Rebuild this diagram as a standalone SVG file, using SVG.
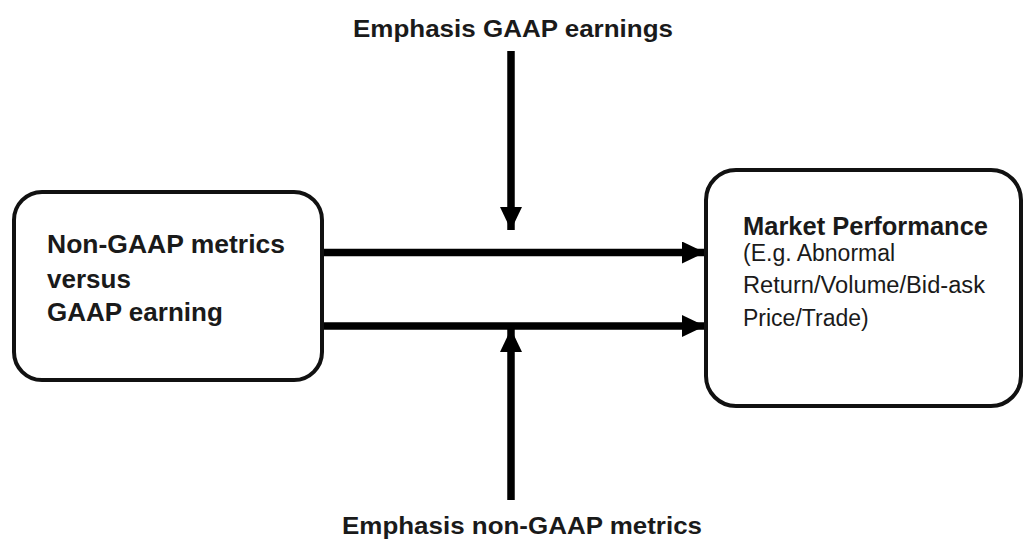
<svg xmlns="http://www.w3.org/2000/svg" width="1024" height="549" viewBox="0 0 1024 549">
  <style>
    .box { fill: #ffffff; stroke: #111111; stroke-width: 4; }
    .conn { stroke: #000000; stroke-width: 7.5; fill: none; }
    .b { font-family: "Liberation Sans", Arial, sans-serif; font-weight: bold; fill: #1a1a1a; }
    .r { font-family: "Liberation Sans", Arial, sans-serif; font-weight: normal; fill: #1a1a1a; }
  </style>
  <defs>
    <marker id="ah" markerUnits="userSpaceOnUse" markerWidth="24" markerHeight="24" refX="23" refY="11" orient="auto">
      <path d="M0,0 L23,11 L0,22 Z" fill="#000000"/>
    </marker>
  </defs>
  <rect width="1024" height="549" fill="#ffffff"/>

  <g id="connectors">
    <line class="conn" x1="324" y1="252.5" x2="705" y2="252.5" marker-end="url(#ah)"/>
    <line class="conn" x1="324" y1="326" x2="705" y2="326" marker-end="url(#ah)"/>
    <line class="conn" x1="511" y1="51" x2="511" y2="230" marker-end="url(#ah)"/>
    <line class="conn" x1="511" y1="500" x2="511" y2="329" marker-end="url(#ah)"/>
  </g>

  <g id="node-nongaap">
    <rect class="box" x="14" y="192" width="308" height="188" rx="28" ry="28"/>
    <text class="b" font-size="26" x="47" y="253" textLength="238" lengthAdjust="spacingAndGlyphs">Non-GAAP metrics</text>
    <text class="b" font-size="26" x="47" y="288">versus</text>
    <text class="b" font-size="26" x="47" y="321">GAAP earning</text>
  </g>

  <g id="node-market">
    <rect class="box" x="706" y="170" width="315" height="236" rx="30" ry="30"/>
    <text class="b" font-size="25" x="743" y="235" textLength="245" lengthAdjust="spacingAndGlyphs">Market Performance</text>
    <text class="r" font-size="23" x="743" y="261">(E.g. Abnormal</text>
    <text class="r" font-size="23" x="743" y="293" textLength="242" lengthAdjust="spacingAndGlyphs">Return/Volume/Bid-ask</text>
    <text class="r" font-size="23" x="743" y="326">Price/Trade)</text>
  </g>

  <g id="label-top">
    <text class="b" font-size="24" x="353" y="37" textLength="320" lengthAdjust="spacingAndGlyphs">Emphasis GAAP earnings</text>
  </g>

  <g id="label-bottom">
    <text class="b" font-size="24" x="342" y="534" textLength="360" lengthAdjust="spacingAndGlyphs">Emphasis non-GAAP metrics</text>
  </g>
</svg>
